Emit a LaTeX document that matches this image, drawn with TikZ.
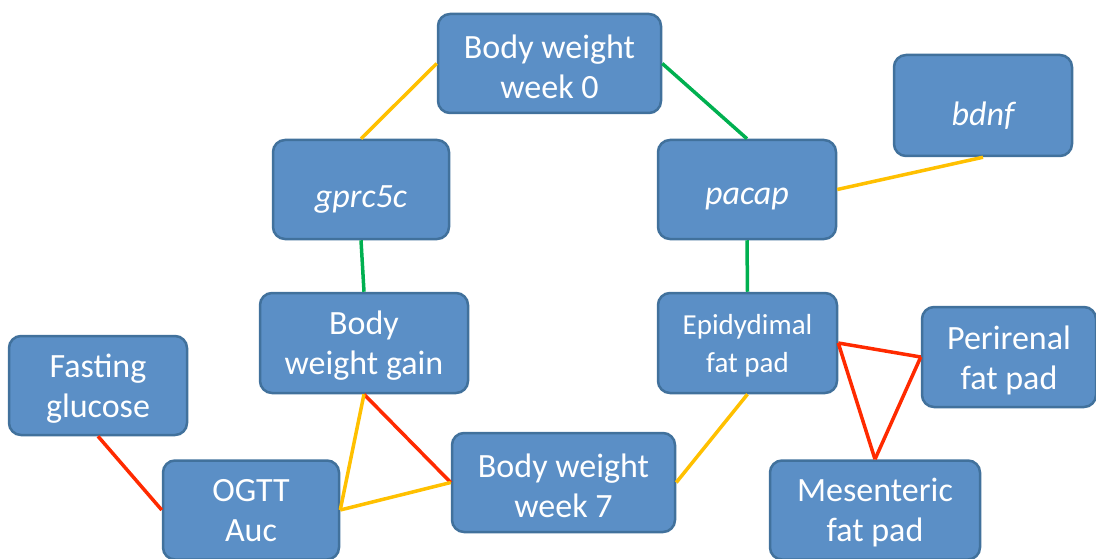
\documentclass[tikz,border=0pt]{standalone}
\usepackage{fontspec}
\setmainfont{Carlito}
\usepackage{tikz}
\usetikzlibrary{positioning,calc}
\definecolor{BoxBlue}{HTML}{5B8FC6}
\definecolor{BoxEdge}{HTML}{41719C}
\definecolor{LinkYellow}{HTML}{FFC000}
\definecolor{LinkGreen}{HTML}{00B050}
\definecolor{LinkRed}{HTML}{FF2A00}

\begin{document}
\begin{tikzpicture}[x=1pt,y=-1pt,
  box/.style={draw=BoxEdge,line width=2.5pt,fill=BoxBlue,rounded corners=12pt,
    minimum height=99pt,inner sep=0pt},
  txt/.style={text=white,align=center,inner sep=0pt,yshift=-3pt,
    font=\fontsize{34}{40}\selectfont},
  genetxt/.style={txt,yshift=-7pt,font=\fontsize{34}{40}\selectfont\itshape},
  yel/.style={LinkYellow,line width=3.5pt},
  grn/.style={LinkGreen,line width=3.5pt},
  rd/.style={LinkRed,line width=3.5pt}]
  \useasboundingbox (0,0) rectangle (1096,559);
  % boxes
  \node[box,minimum width=223pt,label={[txt]center:Body weight\\week 0}] (bw0) at (549.5,63.5) {};
  \node[box,minimum width=178pt,minimum height=101pt,label={[genetxt]center:bdnf}] (bdnf) at (983,105.5) {};
  \node[box,minimum width=176pt,label={[genetxt]center:gprc5c}] (gprc) at (361,189.5) {};
  \node[box,minimum width=178pt,label={[genetxt]center:pacap}] (pacap) at (747,189.5) {};
  \node[box,minimum width=208pt,minimum height=100pt,label={[txt]center:Body\\weight gain}] (gain) at (364,343) {};
  \node[box,minimum width=179pt,minimum height=100pt,label={[txt,font=\fontsize{29}{38}\selectfont]center:Epidydimal\\fat pad}] (epi) at (747.5,343) {};
  \node[box,minimum width=174pt,minimum height=100pt,label={[txt]center:Perirenal\\fat pad}] (peri) at (1009,357) {};
  \node[box,minimum width=178pt,label={[txt]center:Fasting\\glucose}] (fast) at (98,385.5) {};
  \node[box,minimum width=176pt,label={[txt,yshift=2pt]center:OGTT\\Auc}] (ogtt) at (251,510) {};
  \node[box,minimum width=223pt,label={[txt]center:Body weight\\week 7}] (bw7) at (563.5,482.5) {};
  \node[box,minimum width=210pt,label={[txt]center:Mesenteric\\fat pad}] (mes) at (875,510) {};
  % links
  \draw[yel] (bw0.west) -- (gprc.north);
  \draw[grn] (bw0.east) -- (pacap.north);
  \draw[grn] (gprc.south) -- (gain.north);
  \draw[grn] (pacap.south) -- (epi.north);
  \draw[yel] (pacap.east) -- (bdnf.south);
  \draw[rd] (gain.south) -- (bw7.west);
  \draw[yel] (gain.south) -- (ogtt.east);
  \draw[yel] (ogtt.east) -- (bw7.west);
  \draw[yel] (epi.south) -- (bw7.east);
  \draw[rd] (fast.south) -- (ogtt.west);
  \draw[rd] (epi.east) -- (peri.west);
  \draw[rd] (epi.east) -- (mes.north);
  \draw[rd] (peri.west) -- (mes.north);
\end{tikzpicture}
\end{document}
